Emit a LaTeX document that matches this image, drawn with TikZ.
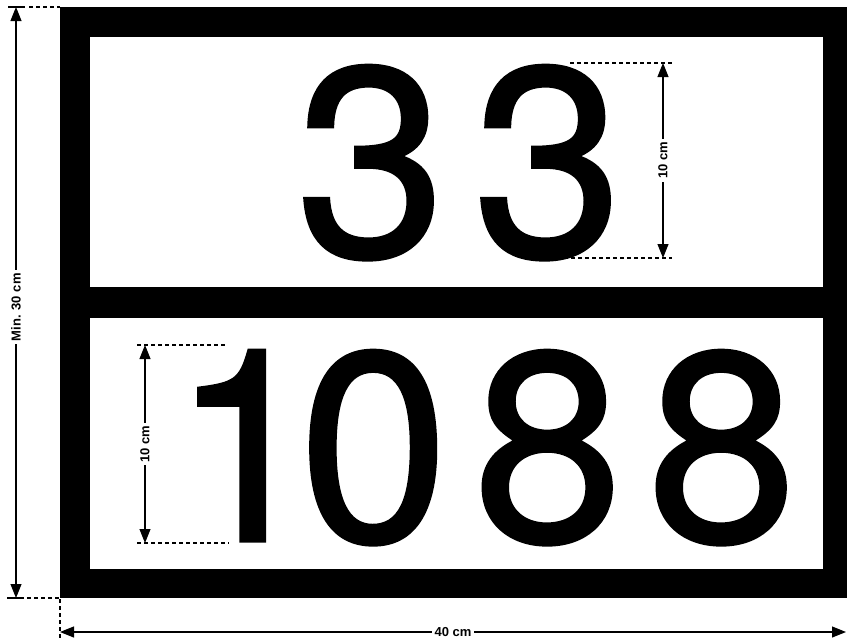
\documentclass[tikz,border=0pt]{standalone}
\usepackage{fontspec}
\setmainfont{Liberation Sans}
\newfontfamily\digitfont[FakeBold=1.2]{TeX Gyre Heros}
\usetikzlibrary{arrows.meta}
\begin{document}
\begin{tikzpicture}[x=1pt,y=-1pt,
  digit/.style={inner sep=0pt, anchor=base, font=\digitfont\fontsize{269}{269}\selectfont},
  dimlabel/.style={fill=white, inner sep=3pt, font=\bfseries\fontsize{13}{13}\selectfont},
  dimline/.style={line width=1.1pt, {Triangle[length=14pt,width=11pt]}-{Triangle[length=14pt,width=11pt]}},
  guide/.style={line width=1.1pt, dash pattern=on 4pt off 3pt},
  tickline/.style={line width=1.2pt}]
\useasboundingbox (0,0) rectangle (847,640);
% plate
\fill (60,7) rectangle (847,598);
\fill[white] (90,37) rectangle (823,287);
\fill[white] (90,318) rectangle (823,569);
% digits
\node[digit] (d1) at (371,256) {3};
\node[digit] (d2) at (548,256) {3};
\node[digit] (d3) at (246,541) {1};
\node[digit] (d4) at (374,541) {0};
\node[digit] (d5) at (548,541) {8};
\node[digit] (d6) at (722,541) {8};
% top 10 cm
\coordinate (ta) at (663,63);
\coordinate (tb) at (663,258);
\coordinate (tga) at (570,63);
\coordinate (tgae) at (672,63);
\coordinate (tgb) at (557,258);
\coordinate (tgbe) at (672,258);
\draw[guide] (tga) -- (tgae);
\draw[guide] (tgb) -- (tgbe);
\draw[dimline] (ta) -- (tb) node[midway, dimlabel, rotate=90] (lt) {10 cm};
% bottom 10 cm
\coordinate (ba) at (145,345);
\coordinate (bb) at (145,543);
\coordinate (bga) at (137,345);
\coordinate (bgae) at (226,345);
\coordinate (bgb) at (137,543);
\coordinate (bgbe) at (229,543);
\draw[guide] (bga) -- (bgae);
\draw[guide] (bgb) -- (bgbe);
\draw[dimline] (ba) -- (bb) node[midway, dimlabel, rotate=90] (lb) {10 cm};
% min 30 cm
\coordinate (la) at (16,7);
\coordinate (lb2) at (16,598);
\coordinate (lta) at (8,7);
\coordinate (ltb) at (25,7);
\coordinate (lga) at (29,7);
\coordinate (lgb) at (60,7);
\coordinate (lba) at (7,598);
\coordinate (lbb) at (24,598);
\coordinate (lgc) at (27,598);
\coordinate (lgd) at (60,598);
\draw[tickline] (lta) -- (ltb);
\draw[tickline] (lba) -- (lbb);
\draw[guide] (lga) -- (lgb);
\draw[guide] (lgc) -- (lgd);
\draw[dimline] (la) -- (lb2) node[pos=0.508, dimlabel, rotate=90] (lm) {Min. 30 cm};
% 40 cm
\coordinate (wa) at (60,632);
\coordinate (wb) at (846,632);
\coordinate (wga) at (60,599);
\coordinate (wgb) at (60,640);
\draw[guide] (wga) -- (wgb);
\draw[dimline] (wa) -- (wb) node[midway, dimlabel] (lw) {40 cm};
\end{tikzpicture}
\end{document}
